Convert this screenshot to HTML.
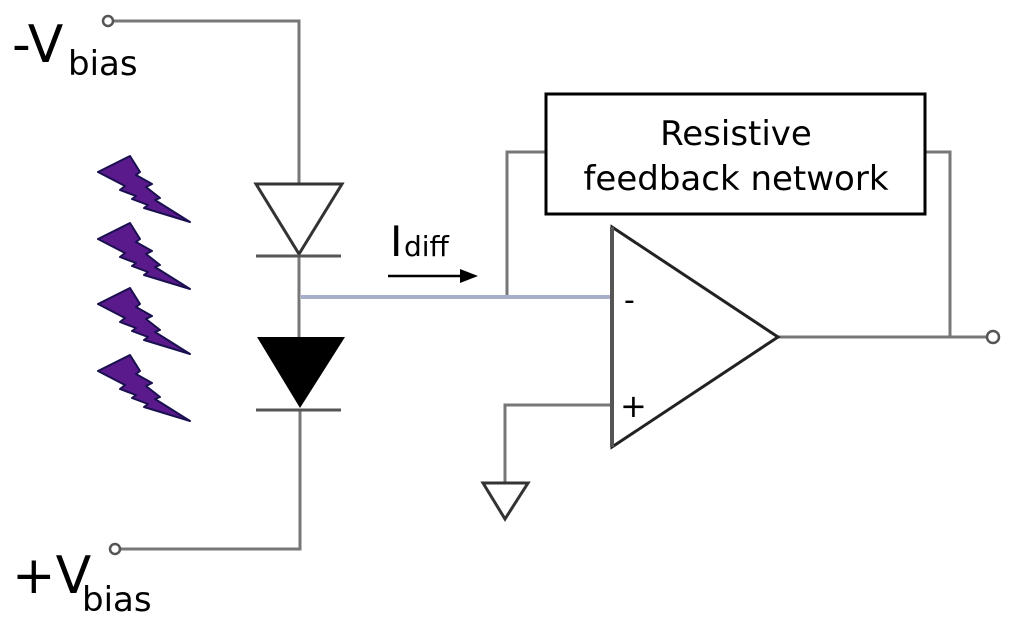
<!DOCTYPE html>
<html><head><style>
html,body{margin:0;padding:0;background:#fff;width:1024px;height:634px;overflow:hidden}
svg{display:block}
text{font-family:"DejaVu Sans","Liberation Sans",sans-serif}
</style></head><body>
<svg width="1024" height="634" viewBox="0 0 1024 634">
<defs>
<polygon id="bolt" points="0,16 32,0 42,16 38,19 54,28 48,31 62,42 57,44 92,66 46,52 50,49 34,43 38,40 22,34 27,30" fill="#5a1a8c" stroke="#1a1050" stroke-width="2" stroke-linejoin="round"/>
</defs>
<g stroke="#777" stroke-width="3" fill="none">
<polyline points="113,21 299,21 299,183"/>
<polyline points="120,549 300,549 300,410"/>
<line x1="299" y1="256" x2="299" y2="337"/>
<polyline points="507,297 507,152 546,152"/>
<polyline points="925,152 950,152 950,337"/>
<line x1="778" y1="337" x2="986" y2="337"/>
<polyline points="612,405 505,405 505,482"/>
</g>
<line x1="301" y1="297" x2="612" y2="297" stroke="#a8aec8" stroke-width="4"/>
<circle cx="108" cy="21" r="5" fill="#fff" stroke="#555" stroke-width="2.5"/>
<circle cx="115" cy="549" r="5" fill="#fff" stroke="#555" stroke-width="2.5"/>
<circle cx="993" cy="337" r="6" fill="#fff" stroke="#555" stroke-width="2.5"/>
<polygon points="256,184 342,184 299,254" fill="#fff" stroke="#333" stroke-width="3"/>
<line x1="256" y1="256" x2="341" y2="256" stroke="#555" stroke-width="3"/>
<polygon points="257,337 345,337 300,408" fill="#000"/>
<line x1="256" y1="410" x2="341" y2="410" stroke="#555" stroke-width="3"/>
<polygon points="612,227 778,337 612,447" fill="#fff" stroke="#222" stroke-width="3"/>
<line x1="612" y1="227" x2="612" y2="447" stroke="#555" stroke-width="4"/>
<text x="624" y="310" font-size="30">-</text>
<text x="620" y="417" font-size="32">+</text>
<polygon points="483,483 528,483 505,519" fill="#fff" stroke="#333" stroke-width="3"/>
<rect x="546" y="94" width="379" height="120" fill="#fff" stroke="#000" stroke-width="3"/>
<text x="736" y="145" font-size="34" text-anchor="middle">Resistive</text>
<text x="736" y="190" font-size="34" text-anchor="middle">feedback network</text>
<text x="390" y="256" font-size="42" font-family="Liberation Serif">I</text>
<text x="404" y="256" font-size="28">diff</text>
<line x1="388" y1="276" x2="466" y2="276" stroke="#000" stroke-width="2.5"/>
<polygon points="478,276 460,269 460,283" fill="#000"/>
<use href="#bolt" x="98" y="156"/>
<use href="#bolt" x="98" y="223"/>
<use href="#bolt" x="98" y="288"/>
<use href="#bolt" x="98" y="355"/>
<text x="12" y="62" font-size="52">-V</text>
<text x="68" y="75" font-size="34">bias</text>
<text x="12" y="593" font-size="52">+V</text>
<text x="82" y="611" font-size="34">bias</text>
</svg>
</body></html>
